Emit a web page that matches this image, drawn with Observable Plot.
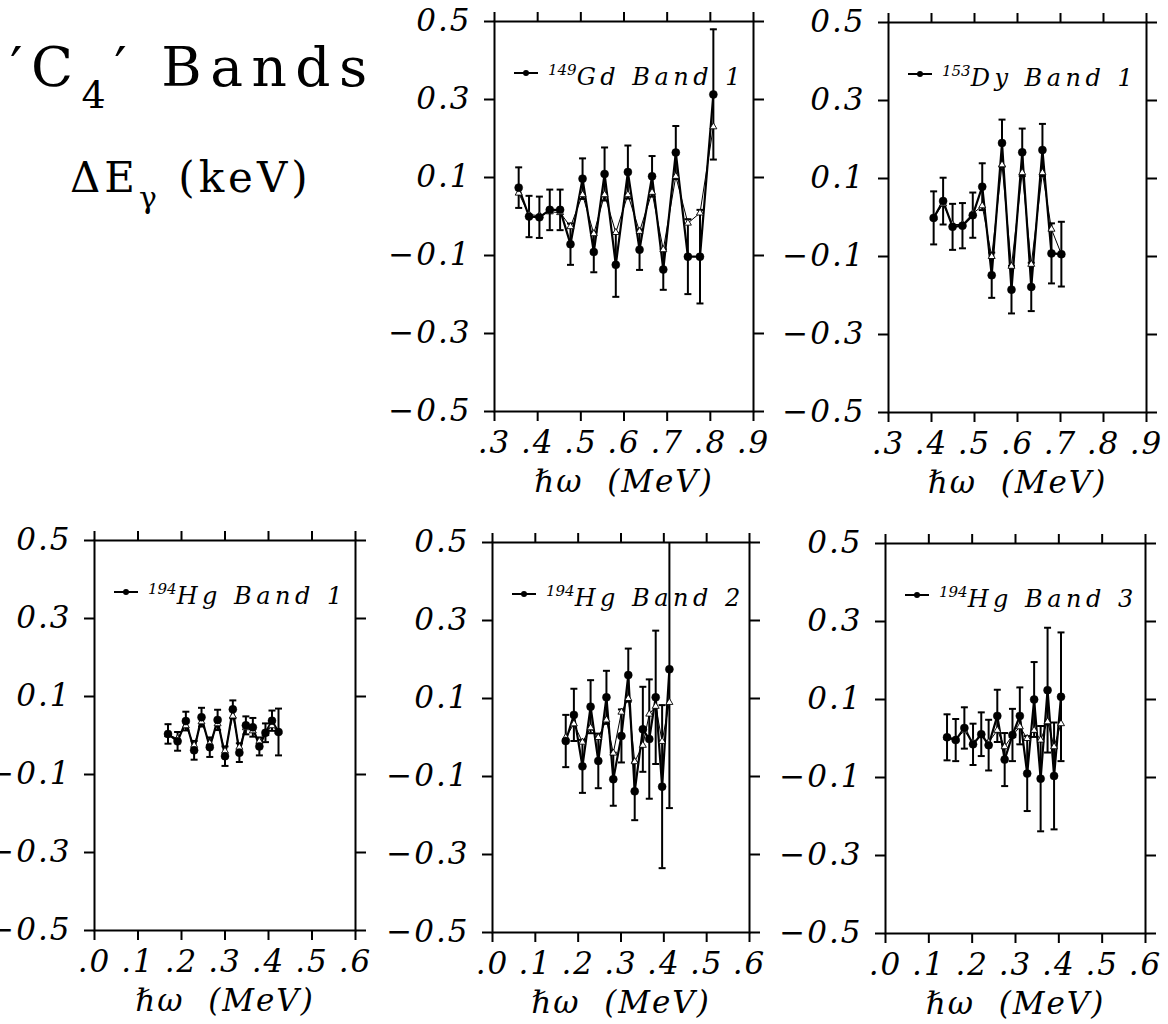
<!DOCTYPE html>
<html>
<head>
<meta charset="utf-8">
<script src="https://cdn.jsdelivr.net/npm/d3@7"></script>
<script src="https://cdn.jsdelivr.net/npm/@observablehq/plot@0.6"></script>
<style>
  html, body { margin: 0; padding: 0; background: white; }
  #page { position: relative; width: 1168px; height: 1024px; overflow: hidden; background: white; }
  #page svg { position: absolute; }
</style>
</head>
<body>
<div id="page"></div>
<script>
// ---------- data ----------
const yTicks = [-0.5, -0.3, -0.1, 0.1, 0.3, 0.5];
const xTicksTop = [0.3, 0.4, 0.5, 0.6, 0.7, 0.8, 0.9];
const xTicksBottom = [0.0, 0.1, 0.2, 0.3, 0.4, 0.5, 0.6];

// 149Gd Band 1
const gdX   = [0.356,0.380,0.404,0.428,0.452,0.476,0.504,0.530,0.555,0.581,0.609,0.636,0.665,0.691,0.720,0.748,0.776,0.807];
const gdY   = [0.074,0.000,-0.002,0.017,0.017,-0.071,0.097,-0.091,0.109,-0.124,0.114,-0.085,0.103,-0.136,0.164,-0.103,-0.103,0.313];
const gdErr = [0.052,0.053,0.053,0.052,0.052,0.053,0.052,0.052,0.068,0.082,0.068,0.052,0.052,0.052,0.068,0.096,0.120,0.167];
const gdRef = [0.060,0.005,0.002,0.012,0.010,-0.026,0.056,-0.044,0.056,-0.041,0.056,-0.038,0.062,-0.085,0.103,-0.017,0.009,0.230];

// 153Dy Band 1
const dyX   = [0.405,0.427,0.449,0.472,0.496,0.518,0.540,0.564,0.586,0.611,0.632,0.658,0.679,0.702];
const dyY   = [-0.001,0.042,-0.024,-0.021,0.006,0.079,-0.148,0.191,-0.185,0.167,-0.178,0.173,-0.092,-0.094];
const dyErr = [0.068,0.060,0.059,0.058,0.058,0.060,0.058,0.060,0.061,0.061,0.062,0.067,0.077,0.083];
const dyRef = [0.000,0.035,-0.018,-0.018,0.010,0.030,-0.100,0.135,-0.125,0.115,-0.120,0.115,-0.030,-0.094];

// 194Hg Band 1
const hg1X   = [0.169,0.191,0.210,0.229,0.246,0.265,0.283,0.300,0.318,0.333,0.348,0.364,0.379,0.393,0.408,0.423];
const hg1Y   = [0.004,-0.015,0.037,-0.038,0.047,-0.030,0.040,-0.053,0.067,-0.044,0.026,0.021,-0.028,0.007,0.038,0.009];
const hg1Err = [0.025,0.024,0.024,0.024,0.024,0.025,0.026,0.025,0.023,0.024,0.023,0.024,0.023,0.024,0.026,0.060];
const hg1Ref = [0.002,-0.008,0.025,-0.025,0.035,-0.020,0.030,-0.040,0.050,-0.030,0.020,0.012,-0.015,0.005,0.025,0.010];

// 194Hg Band 2
const hg2X   = [0.171,0.190,0.210,0.229,0.247,0.266,0.282,0.301,0.317,0.332,0.351,0.366,0.381,0.396,0.413];
const hg2Y   = [-0.009,0.058,-0.074,0.079,-0.060,0.103,-0.107,0.004,0.160,-0.138,0.021,-0.004,0.103,-0.126,0.175];
const hg2Err = [0.067,0.067,0.068,0.068,0.070,0.068,0.068,0.068,0.068,0.074,0.109,0.153,0.171,0.209,0.356];
const hg2Ref = [0.000,0.035,-0.012,0.025,0.000,0.045,-0.040,0.065,0.100,-0.062,-0.020,0.060,0.080,-0.010,0.090];

// 194Hg Band 3
const hg3X   = [0.142,0.162,0.182,0.202,0.221,0.238,0.258,0.275,0.293,0.310,0.327,0.343,0.358,0.374,0.389,0.405];
const hg3Y   = [0.003,-0.004,0.027,-0.015,0.011,-0.017,0.058,-0.054,0.009,0.058,-0.090,0.100,-0.103,0.124,-0.096,0.107];
const hg3Err = [0.059,0.054,0.053,0.053,0.056,0.065,0.067,0.068,0.067,0.073,0.096,0.096,0.135,0.160,0.137,0.165];
const hg3Ref = [0.003,-0.002,0.020,-0.010,0.008,-0.010,0.021,-0.021,0.008,0.030,0.000,0.021,-0.004,0.043,-0.021,0.038];

const panels = [
  {mass: "149", name: "Gd Band 1", x: gdX, y: gdY, err: gdErr, ref: gdRef, xDomain: [0.3, 0.9], xTicks: xTicksTop, left: 494, top: 21, w: 259, h: 390},
  {mass: "153", name: "Dy Band 1", x: dyX, y: dyY, err: dyErr, ref: dyRef, xDomain: [0.3, 0.9], xTicks: xTicksTop, left: 888, top: 22, w: 258, h: 390},
  {mass: "194", name: "Hg Band 1", x: hg1X, y: hg1Y, err: hg1Err, ref: hg1Ref, xDomain: [0.0, 0.6], xTicks: xTicksBottom, left: 94, top: 540, w: 261, h: 390},
  {mass: "194", name: "Hg Band 2", x: hg2X, y: hg2Y, err: hg2Err, ref: hg2Ref, xDomain: [0.0, 0.6], xTicks: xTicksBottom, left: 492, top: 542, w: 257, h: 390},
  {mass: "194", name: "Hg Band 3", x: hg3X, y: hg3Y, err: hg3Err, ref: hg3Ref, xDomain: [0.0, 0.6], xTicks: xTicksBottom, left: 885, top: 543, w: 260, h: 390}
];

// ---------- drawing ----------
const ML = 130, MR = 22, MT = 16, MB = 100;
const FONT = "'DejaVu Serif', 'Liberation Serif', serif";
const capSymbol = { draw(ctx, size) { const w = Math.sqrt(size / Math.PI); ctx.moveTo(-w, 0); ctx.lineTo(w, 0); } };
const fmtY = d => (d < 0 ? "\u2212" : "") + Math.abs(d).toFixed(1);
const fmtX = d => "." + Math.round(d * 10);
const page = document.getElementById("page");

for (const p of panels) {
  const data = p.x.map((x, i) => ({x, y: p.y[i], lo: p.y[i] - p.err[i], hi: p.y[i] + p.err[i], ref: p.ref[i]}));
  const svg = Plot.plot({
    width: p.w + ML + MR,
    height: p.h + MT + MB,
    marginLeft: ML, marginRight: MR, marginTop: MT, marginBottom: MB,
    x: {domain: p.xDomain},
    y: {domain: [-0.5, 0.5]},
    style: {fontFamily: FONT, fontStyle: "italic", fontSize: "31px", letterSpacing: "2px", background: "transparent", color: "black", overflow: "visible"},
    marks: [
      Plot.axisX({anchor: "bottom", ticks: p.xTicks, tickSize: 10, tickPadding: 9, strokeWidth: 2, tickFormat: fmtX,
                  label: "\u210Fω  (MeV)", labelAnchor: "center", labelArrow: "none", labelOffset: 80}),
      Plot.axisX({anchor: "top", ticks: p.xTicks, tickSize: 10, strokeWidth: 2, tickFormat: () => "", label: null}),
      Plot.axisY({anchor: "left", ticks: yTicks, tickSize: 10, tickPadding: 13, strokeWidth: 2, tickFormat: fmtY, label: null}),
      Plot.axisY({anchor: "right", ticks: yTicks, tickSize: 10, strokeWidth: 2, tickFormat: () => "", label: null}),
      Plot.frame({strokeWidth: 2}),
      Plot.ruleX(data, {x: "x", y1: "lo", y2: "hi", strokeWidth: 2, clip: true}),
      Plot.dot(data, {x: "x", y: "hi", symbol: capSymbol, r: 3.5, stroke: "black", strokeWidth: 2, clip: true}),
      Plot.dot(data, {x: "x", y: "lo", symbol: capSymbol, r: 3.5, stroke: "black", strokeWidth: 2, clip: true}),
      Plot.line(data, {x: "x", y: "y", stroke: "black", strokeWidth: 2.2}),
      Plot.line(data, {x: "x", y: "ref", stroke: "black", strokeWidth: 1}),
      Plot.dot(data, {x: "x", y: "ref", symbol: "triangle", r: 2.6, fill: "white", stroke: "black", strokeWidth: 0.9}),
      Plot.dot(data, {x: "x", y: "y", r: 4, fill: "black", stroke: "black", strokeWidth: 0.5})
    ]
  });
  svg.style.left = (p.left - ML) + "px";
  svg.style.top = (p.top - MT) + "px";
  svg.style.maxWidth = "none";

  // legend
  const g = d3.select(svg).append("g").attr("transform", `translate(${ML},${MT})`).attr("text-anchor", "start");
  g.append("line").attr("x1", 20).attr("x2", 44).attr("y1", 52).attr("y2", 52).attr("stroke", "black").attr("stroke-width", 2);
  g.append("circle").attr("cx", 32).attr("cy", 52).attr("r", 3).attr("fill", "black");
  const t = g.append("text").attr("x", 54).attr("y", 64).attr("text-anchor", "start")
    .attr("font-family", FONT).attr("font-style", "italic").attr("fill", "black").attr("letter-spacing", "0px");
  t.append("tspan").attr("font-size", 15).attr("dy", -10).attr("letter-spacing", "0px").text(p.mass);
  t.append("tspan").attr("font-size", 24).attr("dy", 10).attr("letter-spacing", "4.5px").text(p.name);

  page.appendChild(svg);
}

// ---------- title ----------
const title = d3.select(page).append("svg").attr("width", 400).attr("height", 230)
  .style("left", "0px").style("top", "0px");
const t1 = title.append("text").attr("x", 10).attr("y", 86)
  .attr("font-family", FONT).attr("font-size", 55).attr("fill", "black").attr("letter-spacing", "8.5px");
t1.append("tspan").text("\u2032C");
t1.append("tspan").attr("font-size", 38).attr("dy", 22).text("4");
t1.append("tspan").attr("dy", -22).text("\u2032 Bands");
const t2 = title.append("text").attr("x", 70).attr("y", 192)
  .attr("font-family", FONT).attr("font-size", 42).attr("fill", "black").attr("letter-spacing", "4px");
t2.append("tspan").text("ΔE");
t2.append("tspan").attr("font-size", 30).attr("dy", 16).text("γ");
t2.append("tspan").attr("dy", -16).text(" (keV)");
</script>
</body>
</html>
